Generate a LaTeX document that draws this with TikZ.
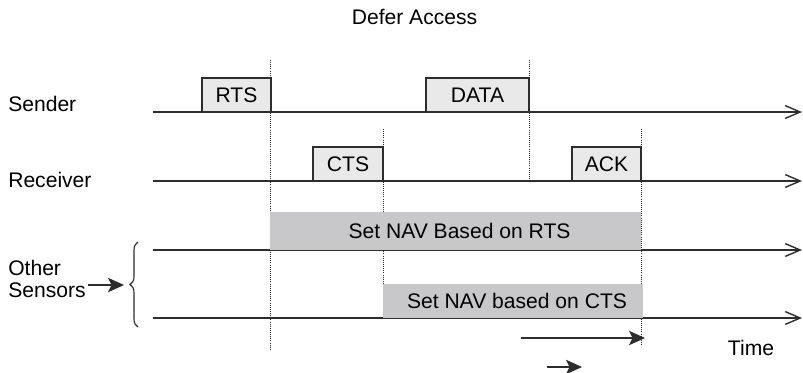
\documentclass[tikz,border=0pt]{standalone}
\usepackage{fontspec}
\setmainfont{Liberation Sans}
\usepackage{tikz}
\usetikzlibrary{arrows.meta,decorations.pathreplacing,positioning}
\definecolor{ink}{RGB}{45,45,45}
\definecolor{framefill}{RGB}{233,233,233}
\definecolor{navfill}{RGB}{200,200,202}

\begin{document}
\begin{tikzpicture}[x=0.25mm,y=-0.25mm,
  every node/.style={font=\fontsize{15}{18}\selectfont,inner sep=0pt},
  timeline/.style={ink,line width=1pt,-{Straight Barb[length=3.75mm,width=3.2mm]}},
  frame/.style={draw=ink,fill=framefill,line width=0.9pt,minimum height=8.5mm},
  nav/.style={fill=navfill,minimum height=8.5mm},
  guide/.style={ink,line width=0.5pt,dash pattern=on 0.5pt off 1pt},
  push/.style={ink,line width=1pt,-{Stealth[length=4mm,width=3.6mm,inset=0.9mm]}}]
\useasboundingbox (0,0) rectangle (803,372);

\node[anchor=base] (title) at (414.5,24) {Defer Access};
\node[anchor=base west] (sender) at (8,111) {Sender};
\node[anchor=base west] (receiver) at (8,187) {Receiver};
\node[anchor=base west] (other) at (8,275) {Other};
\node[anchor=base west] (sensors) at (8,297) {Sensors};
\node[anchor=base] (time) at (751,355) {Time};

\foreach \gx/\gt/\gb in {270/60/350,529/60/181,383/129/318,641/129/345}
  \draw[guide] (\gx,\gt) -- (\gx,\gb);

\foreach \ly in {112,181,250,318}
  \draw[timeline] (153,\ly) -- (802,\ly);

\node[frame,minimum width=17.25mm] (rts) at (236.5,95) {RTS};
\node[frame,minimum width=25.75mm] (data) at (477.5,95) {DATA};
\node[frame,minimum width=17.5mm] (cts) at (348,164) {CTS};
\node[frame,minimum width=17.25mm] (ack) at (606.5,164) {ACK};
\node[nav,minimum width=92.75mm,minimum height=9.5mm] (navrts) at (455.5,231) {\hspace{2mm}Set NAV Based on RTS};
\node[nav,minimum width=65mm] (navcts) at (513,301) {\hspace{2mm}Set NAV based on CTS};

\coordinate (bracetop) at (138,242);
\coordinate (bracebot) at (138,327);
\coordinate (bracetip) at (124,285);
\draw[ink,line width=0.8pt,decorate,decoration={brace,amplitude=2mm}] (bracebot) -- (bracetop);
\draw[push] (sensors.east |- bracetip) ++(2,0) -- (bracetip);

\coordinate (span0) at (521,338);
\coordinate (span1) at (645,338);
\coordinate (tick0) at (547,367);
\coordinate (tick1) at (582,367);
\draw[push] (span0) -- (span1);
\draw[push] (tick0) -- (tick1);
\end{tikzpicture}
\end{document}
